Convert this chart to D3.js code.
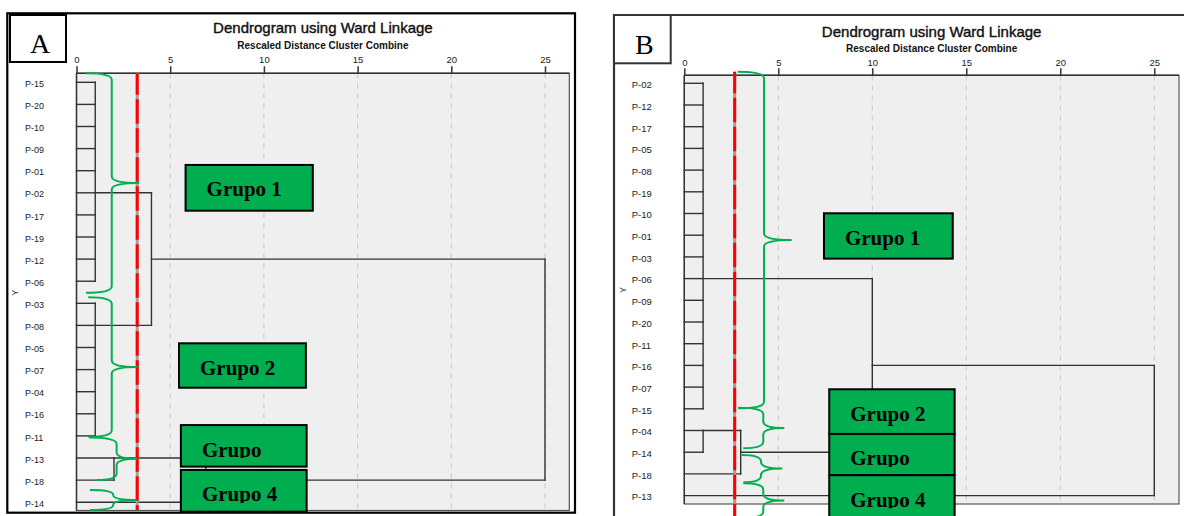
<!DOCTYPE html>
<html>
<head>
<meta charset="utf-8">
<script src="https://cdn.jsdelivr.net/npm/d3@7"></script>
<style>
  body { margin: 0; background: #fff; }
  svg { display: block; font-family: "Liberation Sans", Arial, sans-serif; }
</style>
</head>
<body>
<svg id="chart" width="1184" height="516"></svg>
<script>
/** DATA */
const distTicks = [0, 5, 10, 15, 20, 25];
const groupNames = ["Grupo 1", "Grupo 2", "Grupo", "Grupo 4"];

const leavesA = ["P-15", "P-20", "P-10", "P-09", "P-01", "P-02", "P-17", "P-19", "P-12", "P-06",
  "P-03", "P-08", "P-05", "P-07", "P-04", "P-16", "P-11", "P-13", "P-18", "P-14"];
// merge: [members (leaf index, or 20 + earlier merge index), rescaled distance, row where branch leaves]
const mergesA = [
  [[0, 1, 2, 3, 4, 5, 6, 7, 8, 9], 1.0, 5],
  [[10, 11, 12, 13, 14, 15, 16], 1.0, 11],
  [[17, 18], 2.0, 17],
  [[22, 19], 6.9, 18],
  [[20, 21], 4.0, 8],
  [[24, 23], 25, 13]
];
const cutA = 3.24;

const leavesB = ["P-02", "P-12", "P-17", "P-05", "P-08", "P-19", "P-10", "P-01", "P-03", "P-06",
  "P-09", "P-20", "P-11", "P-16", "P-07", "P-15", "P-04", "P-14", "P-18", "P-13"];
const mergesB = [
  [[0, 1, 2, 3, 4, 5, 6, 7, 8, 9, 10, 11, 12, 13, 14, 15], 1.0, 9],
  [[16, 17], 1.0, 16],
  [[21, 18], 3.0, 17],
  [[20, 22], 10.0, 13],
  [[23, 19], 25, 16]
];
const cutB = 2.68;

/** LAYOUT */
// braces & boxes are given in chart units (distance, row)
const panels = [
  {
    letter: "A", leaves: leavesA, merges: mergesA, cut: cutA,
    frame: { x: 7.3, y: 13.3, w: 567.7, h: 499.4, color: "#000", closed: true },
    letterBox: { x: 10, y: 15, w: 56, h: 47, color: "#000" },
    plot: { left: 76.5, right: 569.3, top: 73.3, bottom: 510.5 },
    xRange: [76.5, 545], yRange: [82.3, 502.2],
    titleY: 33.3, subY: 49.3, tickPad: 3, labelX: 25, labelSize: 9,
    yLab: [15, 292.7], cutEnd: 510,
    braces: [
      { top: -0.41, bot: 9.52, tipT: 0.51, tipB: 0.51, spine: 1.88, cusp: 3.35 },
      { top: 9.73, bot: 16.04, tipT: 0.63, tipB: 0.63, spine: 1.88, cusp: 3.24 },
      { top: 16.07, bot: 18.0, tipT: 0.68, tipB: 1.08, spine: 2.14, cusp: 3.24 },
      { top: 18.45, bot: 19.35, tipT: 0.72, tipB: 0.72, spine: 1.96, cusp: 3.21 }
    ],
    boxes: [
      { d0: 5.82, d1: 12.61, r0: 3.74, r1: 5.81, clip: false },
      { d0: 5.47, d1: 12.24, r0: 11.81, r1: 13.82, clip: false },
      { d0: 5.57, d1: 12.28, r0: 15.51, r1: 17.39, clip: true },
      { d0: 5.57, d1: 12.28, r0: 17.54, r1: 19.43, clip: true }
    ]
  },
  {
    letter: "B", leaves: leavesB, merges: mergesB, cut: cutB,
    frame: { x: 614, y: 15, w: 600, h: 520, color: "#333", closed: false },
    letterBox: { x: 614, y: 15, w: 56.7, h: 48.3, color: "#333" },
    plot: { left: 684.3, right: 1179, top: 75.3, bottom: 504 },
    xRange: [684.3, 1154.3], yRange: [83.3, 495.6],
    titleY: 36.7, subY: 51.7, tickPad: 2.5, labelX: 631.7, labelSize: 9.5,
    yLab: [622.7, 290], cutEnd: 520,
    braces: [
      { top: -0.53, bot: 14.98, tipT: 2.84, tipB: 2.87, spine: 4.24, cusp: 5.71 },
      { top: 14.95, bot: 16.82, tipT: 2.87, tipB: 3.14, spine: 4.20, cusp: 5.32 },
      { top: 17.13, bot: 18.38, tipT: 3.05, tipB: 3.14, spine: 4.08, cusp: 5.21 },
      { top: 18.43, bot: 20.03, tipT: 3.14, tipB: 3.14, spine: 4.20, cusp: 5.32 }
    ],
    boxes: [
      { d0: 7.43, d1: 14.28, r0: 5.99, r1: 8.08, clip: false },
      { d0: 7.71, d1: 14.38, r0: 14.10, r1: 16.16, clip: false },
      { d0: 7.71, d1: 14.38, r0: 16.16, r1: 18.06, clip: true },
      { d0: 7.71, d1: 14.38, r0: 18.06, r1: 20.12, clip: true }
    ]
  }
];

const svg = d3.select("#chart");
const defs = svg.append("defs");

function drawPanel(p, pi) {
  const g = svg.append("g");
  const x = d3.scaleLinear().domain([0, 25]).range(p.xRange);
  const y = d3.scaleLinear().domain([0, p.leaves.length - 1]).range(p.yRange);
  const pl = p.plot;

  // outer frame
  if (p.frame.closed) {
    g.append("rect").attr("x", p.frame.x).attr("y", p.frame.y)
      .attr("width", p.frame.w).attr("height", p.frame.h)
      .attr("fill", "none").attr("stroke", p.frame.color).attr("stroke-width", 2.2);
  } else {
    g.append("path")
      .attr("d", `M${p.frame.x},${p.frame.y + p.frame.h}V${p.frame.y}H${p.frame.x + p.frame.w}`)
      .attr("fill", "none").attr("stroke", p.frame.color).attr("stroke-width", 2.2);
  }
  g.append("rect").attr("x", p.letterBox.x).attr("y", p.letterBox.y)
    .attr("width", p.letterBox.w).attr("height", p.letterBox.h)
    .attr("fill", "#fff").attr("stroke", p.letterBox.color).attr("stroke-width", 2);
  g.append("text")
    .attr("x", p.letterBox.x + p.letterBox.w / 2 + 2)
    .attr("y", p.letterBox.y + p.letterBox.h * 0.8)
    .attr("text-anchor", "middle")
    .style("font-family", "'Liberation Serif', 'Times New Roman', serif")
    .style("font-size", "28px")
    .text(p.letter);

  // titles
  const cx = (pl.left + pl.right) / 2;
  g.append("text").attr("x", cx).attr("y", p.titleY).attr("text-anchor", "middle")
    .style("font-size", "15px").attr("fill", "#111")
    .attr("stroke", "#111").attr("stroke-width", 0.4)
    .text("Dendrogram using Ward Linkage");
  g.append("text").attr("x", cx).attr("y", p.subY).attr("text-anchor", "middle")
    .style("font-size", "10px").style("font-weight", "bold").attr("fill", "#111")
    .text("Rescaled Distance Cluster Combine");

  // plot area
  g.append("rect").attr("x", pl.left).attr("y", pl.top)
    .attr("width", pl.right - pl.left).attr("height", pl.bottom - pl.top)
    .attr("fill", "#efefef").attr("stroke", "#555").attr("stroke-width", 1.2);

  g.append("g").selectAll("line")
    .data(distTicks.filter(t => t > 0))
    .join("line")
    .attr("x1", d => x(d)).attr("x2", d => x(d))
    .attr("y1", pl.top).attr("y2", pl.bottom)
    .attr("stroke", "#c8c8c8").attr("stroke-dasharray", "5,5");

  const axis = d3.axisTop(x).tickValues(distTicks).tickSize(7).tickPadding(p.tickPad);
  const ax = g.append("g").attr("transform", `translate(0,${pl.top})`).call(axis);
  ax.select(".domain").remove();
  ax.selectAll(".tick line").attr("stroke", "#333").attr("stroke-width", 1.5);
  ax.selectAll(".tick text").attr("fill", "#222")
    .style("font-size", "9.5px").style("font-family", "'Liberation Sans', Arial, sans-serif");

  g.append("line").attr("x1", pl.left).attr("x2", pl.right)
    .attr("y1", pl.top).attr("y2", pl.top).attr("stroke", "#333").attr("stroke-width", 1.6);
  g.append("line").attr("x1", x(0)).attr("x2", x(0))
    .attr("y1", pl.top).attr("y2", pl.bottom).attr("stroke", "#333").attr("stroke-width", 1.4);

  // row labels
  g.append("g").selectAll("text")
    .data(p.leaves)
    .join("text")
    .attr("x", p.labelX)
    .attr("y", (d, i) => y(i) + 1.5)
    .attr("dy", "0.35em")
    .attr("fill", "#222")
    .style("font-size", p.labelSize + "px")
    .text(d => d);

  g.append("text")
    .attr("transform", `translate(${p.yLab[0]},${p.yLab[1]}) rotate(-90)`)
    .attr("text-anchor", "middle").attr("dy", "0.35em")
    .attr("fill", "#333").style("font-size", "9px").text("Y");

  // dendrogram
  const nodes = p.leaves.map((l, i) => ({ dist: 0, row: i }));
  const segs = [];
  p.merges.forEach(([kids, d, row]) => {
    kids.forEach(k => segs.push({ d1: nodes[k].dist, d2: d, r1: nodes[k].row, r2: nodes[k].row }));
    const rows = kids.map(k => nodes[k].row);
    segs.push({ d1: d, d2: d, r1: d3.min(rows), r2: d3.max(rows) });
    nodes.push({ dist: d, row: row });
  });
  g.append("g").selectAll("line")
    .data(segs)
    .join("line")
    .attr("x1", d => x(d.d1)).attr("x2", d => x(d.d2))
    .attr("y1", d => y(d.r1)).attr("y2", d => y(d.r2))
    .attr("stroke", "#333").attr("stroke-width", 1.4)
    .attr("stroke-linecap", "square");

  // cut line
  const yCut0 = pl.top - (pi === 1 ? 3.6 : 0);
  g.append("line").attr("x1", x(p.cut)).attr("x2", x(p.cut))
    .attr("y1", yCut0).attr("y2", p.cutEnd)
    .attr("stroke", "#a0a0a0").attr("stroke-width", 3);
  g.append("line").attr("x1", x(p.cut)).attr("x2", x(p.cut))
    .attr("y1", yCut0).attr("y2", p.cutEnd)
    .attr("stroke", "#ff0000").attr("stroke-width", 3)
    .attr("stroke-dasharray", "24.5,4.5").attr("stroke-dashoffset", 3);

  // braces
  g.append("g").selectAll("path")
    .data(p.braces)
    .join("path")
    .attr("d", b => {
      const yt = y(b.top), yb = y(b.bot), ym = (yt + yb) / 2;
      const xs = x(b.spine), xc = x(b.cusp);
      const r = Math.min(6.5, (yb - yt) / 4);
      const pa = d3.path();
      pa.moveTo(x(b.tipT), yt);
      pa.quadraticCurveTo(xs, yt, xs, yt + r);
      pa.lineTo(xs, ym - r);
      pa.quadraticCurveTo(xs, ym, xc, ym);
      pa.quadraticCurveTo(xs, ym, xs, ym + r);
      pa.lineTo(xs, yb - r);
      pa.quadraticCurveTo(xs, yb, x(b.tipB), yb);
      return pa.toString();
    })
    .attr("fill", "none").attr("stroke", "#00b050").attr("stroke-width", 2);

  // group boxes
  p.boxes.forEach((b, i) => {
    const bx = x(b.d0), by = y(b.r0), bw = x(b.d1) - x(b.d0), bh = y(b.r1) - y(b.r0);
    g.append("rect").attr("x", bx).attr("y", by).attr("width", bw).attr("height", bh)
      .attr("fill", "#00ad4f").attr("stroke", "#000").attr("stroke-width", 2);
    const id = `clip-${pi}-${i}`;
    defs.append("clipPath").attr("id", id).append("rect")
      .attr("x", bx).attr("y", by).attr("width", bw).attr("height", b.clip ? 33 : bh);
    g.append("text")
      .attr("clip-path", `url(#${id})`)
      .attr("x", bx + 21).attr("y", by + 31.5)
      .attr("fill", "#000")
      .style("font-family", "'Liberation Serif', 'Times New Roman', serif")
      .style("font-size", "21px").style("font-weight", "bold")
      .text(groupNames[i]);
  });
}

panels.forEach(drawPanel);
</script>
</body>
</html>
